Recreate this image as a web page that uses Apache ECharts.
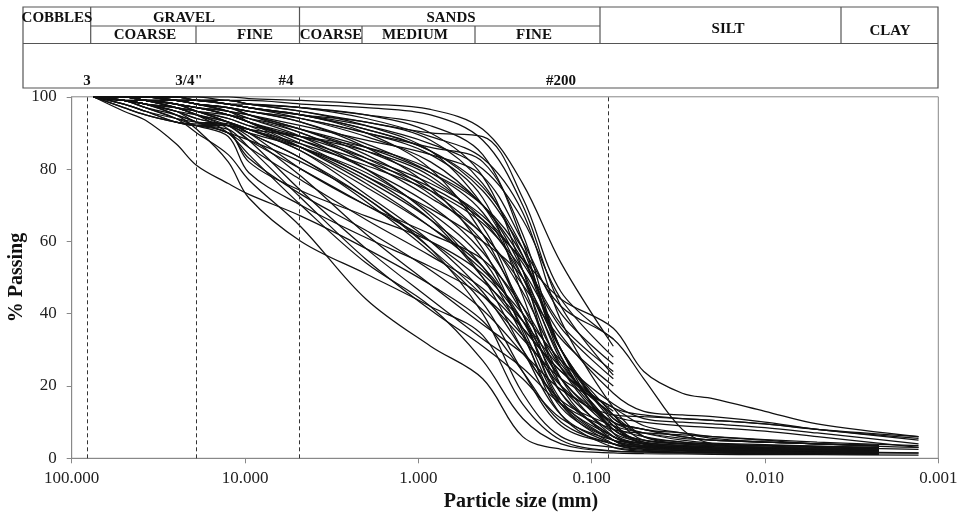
<!DOCTYPE html>
<html><head><meta charset="utf-8">
<script src="https://cdn.jsdelivr.net/npm/echarts@6/dist/echarts.min.js"></script>
<style>html,body{margin:0;padding:0;background:#fff}#c{width:957px;height:516px}</style>
</head><body><div id="c"></div><script>
// Sieve sizes (mm) and hydrometer sizes (mm)
const sieveSizes = [75, 50, 37.5, 25, 19, 12.5, 9.5, 4.75, 2, 0.85, 0.425, 0.25, 0.15, 0.075];
const hydroSizesA = [0.05, 0.03, 0.02, 0.01, 0.005, 0.0022];
const hydroSizesB = [0.05, 0.03, 0.02, 0.01, 0.005, 0.0013];
// Reference sieve lines (mm) and their labels
const sieveMarks = [81, 19.2, 4.86, 0.076];
const sieveMarkLabels = ['3', '3/4"', '#4', '#200'];
// Axis ticks
const yTicks = [0, 20, 40, 60, 80, 100];
const xTicks = [100, 10, 1, 0.1, 0.01, 0.001];

// % passing at sieveSizes, per sample
const c01 = [100, 96, 93.5, 87, 81, 76, 73, 67, 58, 48, 38, 24, 10, 4];
const c02 = [100, 99, 98, 95, 91, 82, 72, 60, 51, 42, 34, 15, 5, 2];
const c03 = [100, 99, 97, 94, 90, 84, 77, 64, 44, 31, 22, 6, 2.5, 1.5];
const c04 = [100, 98, 96, 93, 92, 91, 86, 72, 55, 41, 31, 22, 11, 5];
const c05 = [100, 99, 98, 96, 93, 92, 88, 74, 58, 44, 33, 25, 15, 8];
const c06 = [100, 100, 99, 97, 95, 90, 84, 70, 54, 42, 27, 11, 4, 2];
const c07 = [100, 97, 95, 93, 92.5, 92, 89, 78, 62, 48, 37, 29, 19, 12];
const c08 = [100, 98, 96, 93, 92, 90, 83, 73, 63, 52, 41, 29, 16, 9];
const c09 = [100, 99, 97, 94, 92, 89, 79, 70, 61, 53, 45, 34, 20, 10];
const c10 = [100, 99, 98, 95, 93, 90, 86, 77, 66, 56, 47, 36, 24, 14];
const c11 = [100, 100, 99, 97, 95, 91, 82, 74, 67, 60, 51, 38, 22, 8];
const c12 = [100, 98, 96, 94, 93, 92.5, 90, 80, 70, 62, 55, 42, 25, 9];
const c13 = [100, 99, 99, 98, 96, 93, 91, 85, 75, 64, 53, 38, 18, 6];
const c14 = [100, 100, 99, 97, 96, 93, 90, 83, 71, 57, 43, 24, 9, 4];
const c15 = [100, 99, 98, 96, 94, 92, 90, 86, 79, 68, 55, 36, 15, 5];
const c16 = [100, 100, 100, 99, 99, 98, 97, 95, 90, 80, 62, 40, 15, 4];
const c17 = [100, 100, 100, 99, 98, 97, 96, 93, 86, 75, 58, 35, 12, 3];
const c18 = [100, 100, 99, 99, 98, 96, 95, 91, 85, 77, 66, 50, 28, 8];
const c19 = [100, 100, 100, 100, 99, 99, 98, 97, 95, 90, 78, 52, 20, 5];
const c20 = [100, 100, 100, 100, 100, 99, 99, 98, 97, 95, 88, 70, 42, 23];
const c21 = [100, 100, 100, 100, 100, 100, 99.5, 99, 98, 96.5, 91, 76, 54, 31];
const c22 = [100, 100, 100, 99, 99, 99, 98, 96, 93, 90, 89, 72, 46, 33];
const c23 = [100, 100, 99, 98, 97, 96, 95, 92, 88, 84, 78, 60, 40, 26];
const c24 = [100, 100, 100, 99, 98, 97, 96, 94, 90, 84, 72, 45, 18, 6];
const c25 = [100, 100, 99, 99, 98, 97, 95, 90, 83, 73, 60, 42, 22, 10];
const c26 = [100, 100, 100, 99, 99, 98, 97, 95, 91, 85, 75, 58, 30, 11];
const c27 = [100, 99, 99, 98, 97, 95, 93, 88, 80, 70, 57, 40, 20, 7];
const c28 = [100, 100, 99, 98, 97, 96, 94, 89, 80, 67, 50, 30, 12, 4];
const c29 = [100, 100, 100, 99, 98, 97, 95, 91, 84, 74, 62, 48, 33, 20];
const c30 = [100, 100, 100, 100, 99, 98, 97, 94, 89, 82, 70, 55, 37, 24];
const c31 = [100, 100, 99, 98, 97, 95, 93, 88, 82, 75, 66, 55, 44, 36];
const c32 = [100, 100, 100, 99, 99, 98, 97, 95, 91, 85, 74, 58, 42, 33];
const c33 = [100, 100, 100, 99, 99, 98, 97, 95, 92, 87, 80, 66, 44, 28];
const c34 = [100, 100, 100, 100, 99, 99, 98, 96, 92, 85, 70, 50, 25, 8];
const c35 = [100, 100, 99, 99, 98, 97, 96, 93, 87, 79, 68, 48, 22, 6];
const c36 = [100, 99, 98, 97, 96, 94, 92, 86, 77, 66, 53, 34, 14, 5];
const c37 = [100, 100, 100, 99, 98, 96, 94, 90, 82, 72, 62, 46, 26, 12];
const c38 = [100, 100, 99, 98, 97, 95, 93, 87, 78, 69, 60, 50, 30, 11];
const c39 = [100, 100, 100, 100, 99, 98, 97, 95, 93, 88, 76, 56, 30, 12];
const c40 = [100, 99, 98, 97, 95, 93, 91, 87, 81, 74, 65, 52, 34, 18];
const c41 = [100, 100, 99, 99, 98, 97, 96, 94, 90, 86, 82, 62, 30, 10];
const c42 = [100, 100, 100, 99, 99, 98, 98, 97, 95, 92, 84, 60, 28, 9];
const c43 = [100, 99, 98, 96, 94, 92, 91, 89, 86, 80, 70, 52, 27, 9];
const c44 = [100, 100, 99, 98, 96, 94, 92, 89, 85, 78, 64, 40, 16, 5];
const c45 = [100, 97, 95, 93, 92, 92, 91, 85, 73, 60, 46, 30, 15, 6];
const c46 = [100, 99, 97, 95, 93, 90, 88, 82, 72, 58, 40, 18, 6, 3];
const c47 = [100, 100, 99, 98, 97, 95, 93, 89, 83, 76, 67, 54, 36, 22];
const c48 = [100, 99, 98, 97, 96, 95, 94, 91, 86, 79, 70, 56, 30, 7];
const c49 = [100, 100, 100, 99, 98, 96, 93, 86, 76, 64, 52, 40, 27, 15];
const c50 = [100, 100, 99, 97, 95, 92, 88, 80, 70, 60, 49, 38, 25, 13];
const c51 = [100, 100, 100, 100, 99, 99, 98, 97, 94, 89, 83, 68, 38, 14];
const c52 = [100, 100, 99, 98, 96, 93, 90, 83, 72, 58, 45, 33, 22, 14];
const c53 = [100, 99, 98, 96, 95, 93, 91, 86, 78, 66, 50, 36, 24, 12];

// Hydrometer % passing at hydroSizes (null = no hydrometer test)
const h01 = [3.2, 2.8, 2.5, 2.2, 2, 1.8];
const h02 = [1.7, 1.5, 1.4, 1.3, 1.2, 1.1];
const h03 = [1.3, 1.2, 1.1, 1, 1, 0.9];
const h04 = [4.2, 3.6, 3.2, 2.8, 2.5, 2.2];
const h05 = [7, 6.5, 6, 5.2, 4.5, 3.5];
const h06 = [1.8, 1.6, 1.5, 1.4, 1.3, 1.2];
const h07 = [11.5, 11, 10.5, 9.5, 8, 6];
const h08 = [7, 5.5, 5, 4.5, 4, 3.5];
const h09 = [8, 6, 5, 4.5, 4, 3.6];
const h10 = [12, 11, 10.5, 9.5, 8, 5];
const h11 = [5, 4, 3.5, 3, 2.8, 2.5];
const h12 = [6, 4.5, 4, 3.6, 3.3, 3];
const h13 = [4, 3, 2.6, 2.3, 2.1, 1.9];
const h14 = [3, 2.5, 2.2, 2, 1.8, 1.5];
const h15 = [3.5, 3, 2.7, 2.4, 2.2, 2];
const h16 = [2.5, 2.2, 2, 1.8, 1.7, 1.5];
const h17 = [2, 1.8, 1.6, 1.5, 1.4, 1.3];
const h18 = [5, 4.2, 3.8, 3.4, 3, 2.5];
const h19 = [3, 2.5, 2.2, 2, 1.8, 1.6];
const h24 = [4, 3.2, 2.8, 2.5, 2.3, 2];
const h25 = [7, 5, 4.2, 3.8, 3.4, 3];
const h26 = [8, 7, 6, 5, 4, 3];
const h27 = [4.5, 3.5, 3, 2.7, 2.5, 2.2];
const h28 = [2.6, 2.2, 2, 1.8, 1.6, 1.4];
const h31 = [24, 18, 16.5, 13, 9.5, 6];
const h32 = [22, 8, 4, 3, 2.6, 2.2];
const h34 = [4, 3, 2.6, 2.3, 2.1, 1.9];
const h35 = [3.5, 2.8, 2.5, 2.2, 2, 1.8];
const h36 = [3.2, 2.7, 2.4, 2.2, 2, 1.8];
const h37 = [10, 9, 8.5, 7.5, 6, 3];
const h38 = [8, 6, 5, 4.5, 4, 3.5];
const h39 = [5, 4, 3.5, 3, 2.8, 2.5];
const h40 = [13, 12, 11.5, 10, 8, 5.5];
const h41 = [4, 3.2, 2.8, 2.5, 2.2, 2];
const h42 = [4.5, 3.5, 3, 2.7, 2.4, 2.1];
const h43 = [4, 3, 2.7, 2.5, 2.2, 2];
const h44 = [2.8, 2.4, 2.1, 1.9, 1.7, 1.5];
const h45 = [3.5, 3, 2.7, 2.4, 2.2, 2];
const h46 = [2.2, 2, 1.8, 1.7, 1.6, 1.4];
const h48 = [4, 3, 2.6, 2.3, 2.1, 1.9];
const h49 = [11, 10, 9.5, 8.5, 7, 4];
const h51 = [6, 4, 3.5, 3, 2.7, 2.4];
const h52 = [9, 7, 5.5, 4.5, 4, 3.5];
const h53 = [6, 4.5, 4, 3.5, 3.2, 2.8];

const samples = [
  [c01, h01, hydroSizesA], [c02, h02, hydroSizesA], [c03, h03, hydroSizesB], [c04, h04, hydroSizesA],
  [c05, h05, hydroSizesB], [c06, h06, hydroSizesA], [c07, h07, hydroSizesB], [c08, h08, hydroSizesA],
  [c09, h09, hydroSizesA], [c10, h10, hydroSizesB], [c11, h11, hydroSizesA], [c12, h12, hydroSizesA],
  [c13, h13, hydroSizesA], [c14, h14, hydroSizesB], [c15, h15, hydroSizesA], [c16, h16, hydroSizesA],
  [c17, h17, hydroSizesA], [c18, h18, hydroSizesB], [c19, h19, hydroSizesA], [c20, null, null],
  [c21, null, null], [c22, null, null], [c23, null, null], [c24, h24, hydroSizesA],
  [c25, h25, hydroSizesA], [c26, h26, hydroSizesB], [c27, h27, hydroSizesA], [c28, h28, hydroSizesA],
  [c29, null, null], [c30, null, null], [c31, h31, hydroSizesB], [c32, h32, hydroSizesA],
  [c33, null, null], [c34, h34, hydroSizesA], [c35, h35, hydroSizesA], [c36, h36, hydroSizesA],
  [c37, h37, hydroSizesB], [c38, h38, hydroSizesA], [c39, h39, hydroSizesA], [c40, h40, hydroSizesB],
  [c41, h41, hydroSizesA], [c42, h42, hydroSizesA], [c43, h43, hydroSizesA], [c44, h44, hydroSizesA],
  [c45, h45, hydroSizesA], [c46, h46, hydroSizesB], [c47, null, null], [c48, h48, hydroSizesA],
  [c49, h49, hydroSizesB], [c50, null, null], [c51, h51, hydroSizesA], [c52, h52, hydroSizesA],
  [c53, h53, hydroSizesA]
];

const serif = '"Liberation Serif", "Times New Roman", serif';
const chart = echarts.init(document.getElementById('c'), null, {renderer: 'canvas'});

const series = samples.map((s, idx) => {
  const data = sieveSizes.map((d, i) => [d, s[0][i]]);
  if (s[1]) s[2].forEach((d, i) => data.push([d, s[1][i]]));
  const ser = {
    type: 'line', data, symbol: 'none', showSymbol: false, smooth: 0.35,
    silent: true, animation: false, clip: true,
    lineStyle: {color: '#111', width: 1.25}
  };
  if (idx === 0) {
    ser.markLine = {
      silent: true, symbol: ['none', 'none'], animation: false,
      label: {show: false},
      lineStyle: {type: [4, 3], color: '#333', width: 1},
      data: sieveMarks.map(v => ({xAxis: v}))
    };
  }
  return ser;
});

// Header table (classification)
const T = {x0: 23, x1: 938, y0: 7, yMid: 26, yRow: 43.5, y1: 88};
const lineStyle = {stroke: '#555', lineWidth: 1.2};
const ln = (x1, y1, x2, y2) => ({type: 'line', shape: {x1, y1, x2, y2}, style: lineStyle, silent: true});
const tx = (text, x, y, font) => ({type: 'text', x, y, silent: true,
  style: {text, font, fill: '#111', align: 'center', verticalAlign: 'middle'}});
const headerTop = [['COBBLES', 57, 18.5], ['GRAVEL', 184, 18], ['SANDS', 451, 18], ['SILT', 728, 29], ['CLAY', 890, 31.5]];
const headerSub = [['COARSE', 145, 35], ['FINE', 255, 35], ['COARSE', 331, 35], ['MEDIUM', 415, 35], ['FINE', 534, 35]];
const markLabelX = [87, 189, 286, 561];

const graphics = [
  {type: 'rect', shape: {x: T.x0, y: T.y0, width: T.x1 - T.x0, height: T.y1 - T.y0},
   style: {fill: 'none', stroke: '#555', lineWidth: 1.2}, silent: true},
  ln(90.7, T.yMid, 600, T.yMid),
  ln(T.x0, T.yRow, T.x1, T.yRow),
  ln(90.7, T.y0, 90.7, T.yRow), ln(299.5, T.y0, 299.5, T.yRow),
  ln(600, T.y0, 600, T.yRow), ln(841, T.y0, 841, T.yRow),
  ln(196, T.yMid, 196, T.yRow), ln(362, T.yMid, 362, T.yRow), ln(475, T.yMid, 475, T.yRow)
];
headerTop.forEach(h => graphics.push(tx(h[0], h[1], h[2], 'bold 15px ' + serif)));
headerSub.forEach(h => graphics.push(tx(h[0], h[1], h[2], 'bold 15px ' + serif)));
sieveMarkLabels.forEach((l, i) => graphics.push(tx(l, markLabelX[i], 81.5, 'bold 15px ' + serif)));

chart.setOption({
  backgroundColor: '#fff',
  animation: false,
  grid: {left: 71.7, right: 18.7, top: 96.8, bottom: 57.7, outerBoundsMode: 'none', containLabel: false,
    show: true, borderColor: '#888', borderWidth: 1, backgroundColor: 'transparent'},
  xAxis: {
    type: 'log', logBase: 10, min: 0.001, max: 100, inverse: true,
    name: 'Particle size (mm)', nameLocation: 'middle', nameGap: 34, nameMoveOverlap: false,
    nameTextStyle: {fontFamily: serif, fontWeight: 'bold', fontSize: 20, color: '#111', padding: [0, 0, 0, 32]},
    axisLine: {lineStyle: {color: '#888', width: 1}},
    axisTick: {show: true, inside: false, length: 5, lineStyle: {color: '#888'}},
    axisLabel: {fontFamily: serif, fontSize: 17, color: '#222', margin: 12,
      formatter: v => Number(v).toFixed(3)},
    splitLine: {show: false}, minorTick: {show: false}
  },
  yAxis: {
    type: 'value', min: 0, max: 100, interval: 20,
    name: '% Passing', nameLocation: 'middle', nameGap: 45, nameRotate: 90, nameMoveOverlap: false,
    nameTextStyle: {fontFamily: serif, fontWeight: 'bold', fontSize: 20, color: '#111'},
    axisLine: {show: true, lineStyle: {color: '#888', width: 1}},
    axisTick: {show: true, inside: false, length: 5, lineStyle: {color: '#888'}},
    axisLabel: {fontFamily: serif, fontSize: 17, color: '#222', margin: 15},
    splitLine: {show: false}
  },
  graphic: {elements: graphics},
  series
});
</script></body></html>
